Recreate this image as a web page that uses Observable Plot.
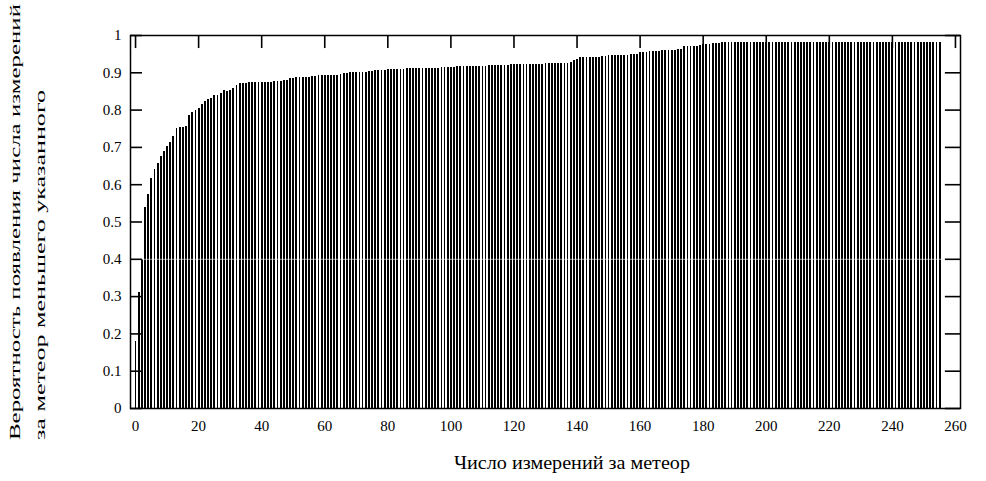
<!DOCTYPE html>
<html>
<head>
<meta charset="utf-8">
<script src="https://cdn.jsdelivr.net/npm/d3@7"></script>
<script src="https://cdn.jsdelivr.net/npm/@observablehq/plot@0.6"></script>
<style>
  html, body { margin: 0; padding: 0; background: white; }
  #chart { width: 986px; height: 481px; }
</style>
</head>
<body>
<div id="chart"></div>
<script>
// Number of measurements per meteor (x) and cumulative probability (y)
const counts = [
  0,1,2,3,4,5,6,7,8,9,10,11,12,13,14,15,16,17,18,19,
  20,21,22,23,24,25,26,27,28,29,30,31,32,33,34,35,36,37,38,39,
  40,41,42,43,44,45,46,47,48,49,50,51,52,53,54,55,56,57,58,59,
  60,61,62,63,64,65,66,67,68,69,70,71,72,73,74,75,76,77,78,79,
  80,81,82,83,84,85,86,87,88,89,90,91,92,93,94,95,96,97,98,99,
  100,101,102,103,104,105,106,107,108,109,110,111,112,113,114,115,116,117,118,119,
  120,121,122,123,124,125,126,127,128,129,130,131,132,133,134,135,136,137,138,139,
  140,141,142,143,144,145,146,147,148,149,150,151,152,153,154,155,156,157,158,159,
  160,161,162,163,164,165,166,167,168,169,170,171,172,173,174,175,176,177,178,179,
  180,181,182,183,184,185,186,187,188,189,190,191,192,193,194,195,196,197,198,199,
  200,201,202,203,204,205,206,207,208,209,210,211,212,213,214,215,216,217,218,219,
  220,221,222,223,224,225,226,227,228,229,230,231,232,233,234,235,236,237,238,239,
  240,241,242,243,244,245,246,247,248,249,250,251,252,253,254,255
];
const probs = [
  0.18,0.31,0.40,0.54,0.575,0.616,0.64,0.658,0.676,0.69,0.702,0.714,0.73,0.752,0.754,0.754,0.756,0.786,0.794,0.80,
  0.803,0.815,0.822,0.828,0.83,0.839,0.84,0.844,0.853,0.851,0.853,0.857,0.865,0.870,0.872,0.872,0.873,0.873,0.874,0.874,
  0.874,0.875,0.875,0.875,0.876,0.878,0.878,0.879,0.88,0.884,0.886,0.887,0.887,0.887,0.888,0.888,0.889,0.889,0.893,0.893,
  0.893,0.894,0.894,0.894,0.894,0.895,0.897,0.897,0.902,0.902,0.902,0.902,0.902,0.902,0.903,0.903,0.905,0.905,0.905,0.906,
  0.908,0.908,0.909,0.910,0.910,0.910,0.911,0.911,0.911,0.911,0.911,0.911,0.912,0.912,0.912,0.912,0.912,0.913,0.913,0.915,
  0.915,0.915,0.916,0.916,0.916,0.917,0.917,0.917,0.918,0.918,0.918,0.918,0.919,0.919,0.919,0.920,0.920,0.920,0.920,0.921,
  0.921,0.921,0.922,0.922,0.922,0.922,0.923,0.923,0.923,0.923,0.924,0.924,0.924,0.925,0.925,0.925,0.925,0.926,0.928,0.932,
  0.935,0.940,0.940,0.940,0.941,0.941,0.941,0.942,0.943,0.943,0.946,0.946,0.946,0.946,0.947,0.947,0.947,0.948,0.950,0.950,
  0.954,0.955,0.955,0.956,0.956,0.957,0.958,0.959,0.960,0.960,0.960,0.961,0.962,0.962,0.970,0.970,0.970,0.971,0.971,0.972,
  0.975,0.976,0.977,0.978,0.979,0.979,0.980,0.980,0.980,0.980,0.980,0.980,0.980,0.980,0.980,0.980,0.980,0.980,0.980,0.980,
  0.980,0.980,0.980,0.980,0.980,0.980,0.980,0.980,0.980,0.980,0.980,0.980,0.980,0.980,0.980,0.980,0.980,0.980,0.980,0.980,
  0.980,0.980,0.980,0.980,0.980,0.980,0.980,0.980,0.980,0.980,0.980,0.980,0.980,0.980,0.980,0.980,0.980,0.980,0.980,0.980,
  0.980,0.980,0.980,0.980,0.980,0.980,0.980,0.980,0.980,0.980,0.980,0.980,0.980,0.980,0.980,0.980
];
const xTicks = [0,20,40,60,80,100,120,140,160,180,200,220,240,260];
const yTicks = [0,0.1,0.2,0.3,0.4,0.5,0.6,0.7,0.8,0.9,1];
const xTitle = "Число измерений за метеор";
const yTitle1 = "Вероятность появления числа измерений";
const yTitle2 = "за метеор меньшего указанного";

const data = counts.map((n, i) => ({n, p: probs[i]}));
const xDomain = [-1.6, 261.6];

const chart = Plot.plot({
  width: 986,
  height: 481,
  marginLeft: 130,
  marginRight: 26,
  marginTop: 35,
  marginBottom: 73,
  style: {fontFamily: "'Liberation Serif', 'Times New Roman', serif", fontSize: "15px", background: "white", color: "black"},
  x: {domain: xDomain, ticks: xTicks, label: null},
  y: {domain: [0, 1], ticks: yTicks, label: null},
  marks: [
    Plot.ruleX(data, {x: "n", y1: 0, y2: "p", stroke: "black", strokeWidth: 1.8, shapeRendering: "crispEdges"}),
    Plot.ruleY([0.4], {stroke: "white", strokeWidth: 1, strokeOpacity: 0.6}),
    Plot.frame({stroke: "black", strokeWidth: 1.5}),
    Plot.ruleY(yTicks, {y: d => d, x1: xDomain[0], x2: xDomain[0] + 3.8, stroke: "black", strokeWidth: 1.6}),
    Plot.ruleY(yTicks, {y: d => d, x1: xDomain[1] - 4.8, x2: xDomain[1], stroke: "black", strokeWidth: 1.6}),
    Plot.ruleX(xTicks, {x: d => d, y1: 1, y2: 0.965, stroke: "black", strokeWidth: 1.6}),
    Plot.axisX(xTicks, {tickSize: 0, tickPadding: 12, tickFormat: d => String(d), fontSize: 15}),
    Plot.axisY(yTicks, {tickSize: 0, tickPadding: 9, tickFormat: d => d === 0 ? "0" : d === 1 ? "1" : d.toFixed(1), fontSize: 15})
  ]
});

document.getElementById("chart").appendChild(chart);

const svg = d3.select(chart);
svg.append("text")
  .attr("x", 572).attr("y", 469)
  .attr("text-anchor", "middle")
  .attr("font-family", "'Liberation Serif', serif")
  .attr("font-size", 18)
  .attr("fill", "black")
  .attr("textLength", 236)
  .attr("lengthAdjust", "spacingAndGlyphs")
  .text(xTitle);
svg.append("text")
  .attr("transform", "translate(20,440) rotate(-90)")
  .attr("text-anchor", "start")
  .attr("font-family", "'Liberation Serif', serif")
  .attr("font-size", 15)
  .attr("fill", "black")
  .attr("textLength", 436)
  .attr("lengthAdjust", "spacingAndGlyphs")
  .text(yTitle1);
svg.append("text")
  .attr("transform", "translate(45,440) rotate(-90)")
  .attr("text-anchor", "start")
  .attr("font-family", "'Liberation Serif', serif")
  .attr("font-size", 15)
  .attr("fill", "black")
  .attr("textLength", 350)
  .attr("lengthAdjust", "spacingAndGlyphs")
  .text(yTitle2);
</script>
</body>
</html>
